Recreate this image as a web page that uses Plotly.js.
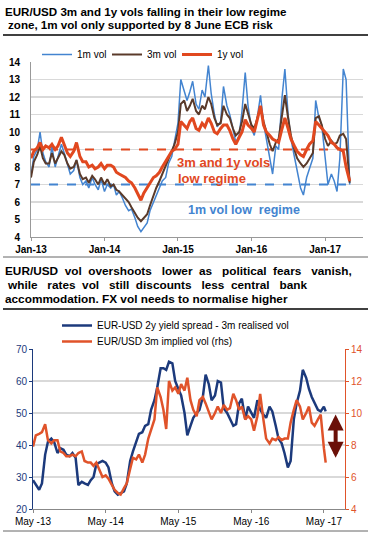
<!DOCTYPE html>
<html><head><meta charset="utf-8">
<script src="https://cdn.plot.ly/plotly-3.0.1.min.js"></script>
<style>html,body{margin:0;padding:0;background:#fff}#chart{width:368px;height:533px}</style>
</head><body><div id="chart"></div>
<script>
// ---------- Top chart data (EUR/USD implied vols) ----------
const topDates = [
'2013-01-01','2013-01-15','2013-02-01','2013-02-15','2013-03-01','2013-03-15','2013-04-01','2013-04-15','2013-05-01','2013-05-15','2013-06-01','2013-06-15',
'2013-07-01','2013-07-15','2013-08-01','2013-08-15','2013-09-01','2013-09-15','2013-10-01','2013-10-15','2013-11-01','2013-11-15','2013-12-01','2013-12-15',
'2014-01-01','2014-01-15','2014-02-01','2014-02-15','2014-03-01','2014-03-15','2014-04-01','2014-04-15','2014-05-01','2014-05-15','2014-06-01','2014-06-15',
'2014-07-01','2014-07-15','2014-08-01','2014-08-15','2014-09-01','2014-09-15','2014-10-01','2014-10-15','2014-11-01','2014-11-15','2014-12-01','2014-12-15',
'2015-01-01','2015-01-15','2015-02-01','2015-02-15','2015-03-01','2015-03-15','2015-04-01','2015-04-15','2015-05-01','2015-05-15','2015-06-01','2015-06-15',
'2015-07-01','2015-07-15','2015-08-01','2015-08-15','2015-09-01','2015-09-15','2015-10-01','2015-10-15','2015-11-01','2015-11-15','2015-12-01','2015-12-15',
'2016-01-01','2016-01-15','2016-02-01','2016-02-15','2016-03-01','2016-03-15','2016-04-01','2016-04-15','2016-05-01','2016-05-15','2016-06-01','2016-06-15',
'2016-07-01','2016-07-15','2016-08-01','2016-08-15','2016-09-01','2016-09-15','2016-10-01','2016-10-15','2016-11-01','2016-11-15','2016-12-01','2016-12-15',
'2017-01-01','2017-01-15','2017-02-01','2017-02-15','2017-03-01','2017-03-15','2017-04-01','2017-04-15','2017-05-03'
];
const vol1m = [
7.5,8.6,9.0,10.0,8.8,8.3,8.0,9.2,8.0,8.6,9.3,8.8,8.2,7.6,7.8,8.4,7.4,7.0,7.2,6.8,7.4,7.0,6.7,7.3,
6.6,7.0,6.8,7.0,6.4,6.6,6.2,5.8,5.5,5.6,5.1,4.6,4.3,4.5,4.8,5.5,6.0,6.4,6.8,7.2,7.4,8.2,8.6,9.4,
10.5,13.0,12.4,11.8,12.3,12.9,11.6,11.3,12.4,12.0,13.8,12.2,11.0,10.3,10.6,12.6,11.5,11.0,10.2,9.4,9.8,11.2,13.4,11.5,
10.2,9.8,11.0,12.1,10.5,9.6,8.4,7.6,9.2,9.0,12.0,13.6,11.0,9.6,8.6,7.8,6.8,6.4,7.4,7.9,8.5,11.8,10.8,10.4,
8.4,7.0,7.6,7.2,6.6,8.5,13.6,13.0,7.0
];
const vol3m = [
7.4,8.3,8.7,9.2,8.5,8.2,8.2,8.8,8.2,8.5,8.9,8.7,8.2,7.9,8.0,8.4,7.6,7.3,7.4,7.1,7.5,7.3,7.0,7.4,
7.0,7.3,6.9,7.0,6.7,6.6,6.4,6.2,6.0,5.7,5.4,5.1,4.9,5.1,5.3,5.8,6.4,6.8,7.2,7.6,8.1,8.5,9.0,9.3,
10.0,11.6,11.8,11.2,11.5,11.9,11.2,11.0,11.5,11.3,12.0,11.6,10.8,10.4,10.5,11.5,11.0,10.8,10.2,9.8,10.0,10.6,11.6,11.0,
10.4,10.2,10.8,11.4,10.6,10.0,9.3,8.9,9.4,9.6,11.0,12.1,10.8,9.8,9.0,8.5,8.2,8.0,8.2,8.5,8.8,10.8,10.9,10.4,
9.6,9.2,9.5,9.3,9.4,9.8,9.9,9.6,7.1
];
const vol1y = [
8.5,8.9,9.1,9.4,9.0,9.2,9.1,9.3,9.0,9.2,9.7,9.3,8.8,8.6,8.9,9.4,8.6,8.3,8.3,8.0,8.1,7.9,8.0,8.2,
7.9,8.1,8.1,8.0,7.7,7.6,7.5,7.4,7.2,7.1,6.8,6.5,6.1,6.5,6.8,7.1,7.4,7.5,7.7,8.0,8.3,8.6,8.9,9.0,
9.3,10.6,10.4,10.2,10.6,10.8,10.2,10.1,10.5,10.3,10.8,10.5,10.0,9.9,10.2,10.4,10.4,10.1,9.6,9.3,9.7,10.0,10.7,10.4,
10.2,10.0,10.8,11.5,10.4,10.0,9.8,9.6,9.5,9.4,10.2,10.8,10.2,9.6,9.2,8.9,8.7,8.6,9.0,9.3,9.5,10.6,10.4,10.2,
10.0,9.8,9.4,9.3,9.1,9.0,8.9,8.0,7.2
];
const regime3m1y = 9;   // 3m and 1y vols low regime level
const regime1m = 7;     // 1m vol low regime level

// ---------- Bottom chart data ----------
const botDates = [
'2013-05-01','2013-05-15','2013-06-01','2013-06-15','2013-07-01','2013-07-15','2013-08-01','2013-08-15','2013-09-01','2013-09-15','2013-10-01','2013-10-15',
'2013-11-01','2013-11-15','2013-12-01','2013-12-15','2014-01-01','2014-01-15','2014-02-01','2014-02-15','2014-03-01','2014-03-15','2014-04-01','2014-04-15',
'2014-05-01','2014-05-15','2014-06-01','2014-06-15','2014-07-01','2014-07-15','2014-08-01','2014-08-15','2014-09-01','2014-09-15','2014-10-01','2014-10-15',
'2014-11-01','2014-11-15','2014-12-01','2014-12-15','2015-01-01','2015-01-15','2015-02-01','2015-02-15','2015-03-01','2015-03-15','2015-04-01','2015-04-15',
'2015-05-01','2015-05-15','2015-06-01','2015-06-15','2015-07-01','2015-07-15','2015-08-01','2015-08-15','2015-09-01','2015-09-15','2015-10-01','2015-10-15',
'2015-11-01','2015-11-15','2015-12-01','2015-12-15','2016-01-01','2016-01-15','2016-02-01','2016-02-15','2016-03-01','2016-03-15','2016-04-01','2016-04-15',
'2016-05-01','2016-05-15','2016-06-01','2016-06-15','2016-07-01','2016-07-15','2016-08-01','2016-08-15','2016-09-01','2016-09-15','2016-10-01','2016-10-15',
'2016-11-01','2016-11-15','2016-12-01','2016-12-15','2017-01-01','2017-01-15','2017-02-01','2017-02-15','2017-03-01','2017-03-15','2017-04-01','2017-04-15',
'2017-05-01','2017-05-10'
];
const spreadMinusRv = [
29,27.5,26,28,37,41,42,41,37.5,39,
38.5,37,36.5,37.5,36,27.5,28.5,28,27.5,29,
30,34,34.5,35,34.5,33,28,25.5,24.5,25,
25.5,28,35,38,41,43.5,44,46,46.5,51,
54,58,64,64,63.5,66,65.5,60,57.5,55.5,
50,43,46,48.5,50,51,55,62,59,54,
55.5,60,59.5,51.5,50,48,46,46.5,53,54.5,
48,52,50,48.5,54,51,49.5,48.5,52,50.5,
46,42,40.5,37.5,33,35,48,53,57,63.5,
61,57.5,55,53,51,50.5,52,50.5
];
const impliedVol3m = [
7.9,8.6,8.7,8.8,9.3,8.3,8.1,8.3,8.3,7.6,
7.5,7.3,7.3,7.4,7.3,7.5,7.6,7.0,6.9,6.9,
6.7,6.9,6.4,6.0,6.1,5.9,5.5,5.2,5.0,4.9,
5.3,5.6,6.5,7.2,7.1,7.4,6.9,7.4,8.4,9.0,
9.6,11.6,11.0,10.2,9.0,12.0,11.4,11.6,11.2,11.8,
11.4,12.2,10.8,10.2,9.8,10.8,11.0,10.6,10.1,9.6,
10.0,10.4,10.0,10.5,10.2,10.3,11.2,10.8,10.2,10.4,
9.6,9.8,9.6,8.9,9.8,11.2,9.6,8.4,8.1,8.4,
8.3,8.5,8.3,8.4,8.4,9.4,10.2,10.8,10.4,9.6,
10.0,10.4,9.4,9.2,9.6,9.9,7.8,6.9
];
const gapTop = 10, gapBottom = 7.2;  // double arrow on rhs

// ---------- Styling ----------
const W = 368, H = 533;
const px = v => v / W, py = v => 1 - v / H;
const FONT = 'Liberation Sans, Arial, Helvetica, sans-serif';
const cBlue = '#4384d0', cBrown = '#5a3a2a', cRed = '#e1481f';
const cNavy = '#1c3a7c', cOrange = '#e0532a', cArrow = '#6b1008';
const NB = '\u00a0';

const firstDate = topDates[0], lastDate = topDates[topDates.length - 1];
const traces = [
  {x: [firstDate, lastDate], y: [regime3m1y, regime3m1y], type: 'scatter', mode: 'lines', xaxis: 'x', yaxis: 'y',
   line: {color: cRed, width: 2, dash: 'dash'}, showlegend: false, hoverinfo: 'skip'},
  {x: [firstDate, lastDate], y: [regime1m, regime1m], type: 'scatter', mode: 'lines', xaxis: 'x', yaxis: 'y',
   line: {color: cBlue, width: 2, dash: 'dash'}, showlegend: false, hoverinfo: 'skip'},
  {x: topDates, y: vol1m, name: '1m vol', type: 'scatter', mode: 'lines', xaxis: 'x', yaxis: 'y',
   line: {color: cBlue, width: 1.5}, legend: 'legend'},
  {x: topDates, y: vol3m, name: '3m vol', type: 'scatter', mode: 'lines', xaxis: 'x', yaxis: 'y',
   line: {color: cBrown, width: 2}, legend: 'legend'},
  {x: topDates, y: vol1y, name: '1y vol', type: 'scatter', mode: 'lines', xaxis: 'x', yaxis: 'y',
   line: {color: cRed, width: 3}, legend: 'legend'},
  {x: botDates, y: spreadMinusRv, name: 'EUR-USD 2y yield spread - 3m realised vol', type: 'scatter', mode: 'lines',
   xaxis: 'x2', yaxis: 'y2', line: {color: cNavy, width: 2.5}, legend: 'legend2'},
  {x: botDates, y: impliedVol3m, name: 'EUR/USD 3m implied vol (rhs)', type: 'scatter', mode: 'lines',
   xaxis: 'x2', yaxis: 'y3', line: {color: cOrange, width: 2.5}, legend: 'legend3'}
];

const hline = (y, color, w) => ({type: 'line', xref: 'paper', yref: 'paper', x0: px(3), x1: 1, y0: py(y), y1: py(y), line: {color: color, width: w}});
const tann = (text, x, y, size, color) => ({text: text, xref: 'paper', yref: 'paper', x: px(x), y: py(y), xanchor: 'left', yanchor: 'middle',
  showarrow: false, font: {family: FONT, size: size, color: color || '#000', weight: 700}});
const legFont = {family: FONT, size: 10, color: '#000'};

const layout = {
  width: W, height: H, margin: {l: 0, r: 0, t: 0, b: 0},
  paper_bgcolor: '#fff', plot_bgcolor: 'rgba(0,0,0,0)',
  font: {family: FONT, size: 10, color: '#000'},
  showlegend: true,
  legend: {orientation: 'h', x: px(37), y: py(40), xanchor: 'left', yanchor: 'top', bgcolor: 'rgba(0,0,0,0)',
    font: legFont, itemwidth: 30, entrywidth: 25, entrywidthmode: 'pixels', traceorder: 'normal'},
  legend2: {orientation: 'v', x: px(57), y: py(311), xanchor: 'left', yanchor: 'top', bgcolor: 'rgba(0,0,0,0)', font: legFont, itemwidth: 30},
  legend3: {orientation: 'v', x: px(57), y: py(327), xanchor: 'left', yanchor: 'top', bgcolor: 'rgba(0,0,0,0)', font: legFont, itemwidth: 30},
  xaxis: {domain: [px(31), px(363)], anchor: 'y', type: 'date', range: ['2013-01-01', '2017-07-08'],
    tickformat: '%b-%y', dtick: 'M12', tick0: '2013-01-01', ticks: 'outside', ticklen: 3, tickcolor: '#999',
    showline: true, linecolor: '#999', linewidth: 1, showgrid: false, zeroline: false,
    tickfont: {family: FONT, size: 10, color: '#000', weight: 700}},
  yaxis: {domain: [py(237), py(62)], anchor: 'x', range: [4, 14], dtick: 1, showgrid: true, gridcolor: '#d9d9d9', gridwidth: 1.5,
    showline: true, linecolor: '#999', linewidth: 1, ticks: '', zeroline: false, ticklabelstandoff: 8,
    tickfont: {family: FONT, size: 10, color: '#000', weight: 700}},
  xaxis2: {domain: [px(33), px(345)], anchor: 'y2', type: 'date', range: ['2013-05-01', '2017-08-15'],
    tickformat: '%b -%y', dtick: 'M12', tick0: '2013-05-01', ticks: 'outside', ticklen: 3, tickcolor: '#888',
    showline: true, linecolor: '#888', linewidth: 1, showgrid: false, zeroline: false,
    tickfont: {family: FONT, size: 10, color: '#000'}},
  yaxis2: {domain: [py(509), py(349)], anchor: 'x2', range: [20, 70], dtick: 10, showgrid: true, gridcolor: '#d9d9d9', gridwidth: 1.5,
    showline: true, linecolor: cNavy, linewidth: 1, ticks: 'outside', ticklen: 3, tickcolor: cNavy, zeroline: false,
    tickfont: {family: FONT, size: 10, color: cNavy}},
  yaxis3: {domain: [py(509), py(349)], anchor: 'x2', overlaying: 'y2', side: 'right', range: [4, 14], dtick: 2, showgrid: false,
    showline: true, linecolor: cOrange, linewidth: 1, ticks: 'outside', ticklen: 3, tickcolor: cOrange, zeroline: false,
    tickfont: {family: FONT, size: 10, color: cOrange}},
  shapes: [
    hline(35, '#000', 1.5), hline(257, '#666', 1), hline(309, '#000', 1.5), hline(531, '#666', 1)
  ],
  annotations: [
    tann('EUR/USD 3m and 1y vols falling in their low regime', 3, 11, 11.6),
    tann('zone, 1m vol only supported by 8 June ECB risk', 6, 25, 11.6),
    tann('3m and 1y vols', 175, 162, 13, cRed),
    tann('low regime', 176, 178, 13, cRed),
    tann('1m vol low' + NB + ' regime', 186, 210, 12.5, cBlue),
    tann('EUR/USD' + NB + ' vol' + NB + ' overshoots' + NB + NB + ' lower' + NB + ' as' + NB + NB + ' political' + NB + ' fears' + NB + NB + ' vanish,', 3, 271, 11.8),
    tann('while' + NB + NB + ' rates' + NB + ' vol' + NB + NB + ' still' + NB + ' discounts' + NB + NB + ' less' + NB + ' central' + NB + NB + ' bank', 5, 285, 11.8),
    tann('accommodation. FX vol needs to normalise higher', 3, 299, 11.8),
    {text: '', xref: 'x2', yref: 'y3', axref: 'x2', ayref: 'y3', x: '2017-06-29', y: gapBottom, ax: '2017-06-29', ay: gapTop,
     showarrow: true, arrowhead: 2, startarrowhead: 2, arrowside: 'end+start', arrowwidth: 4, arrowsize: 0.8, startarrowsize: 0.8, arrowcolor: cArrow}
  ]
};

Plotly.newPlot('chart', traces, layout, {displayModeBar: false, staticPlot: true});
</script>
</body></html>
